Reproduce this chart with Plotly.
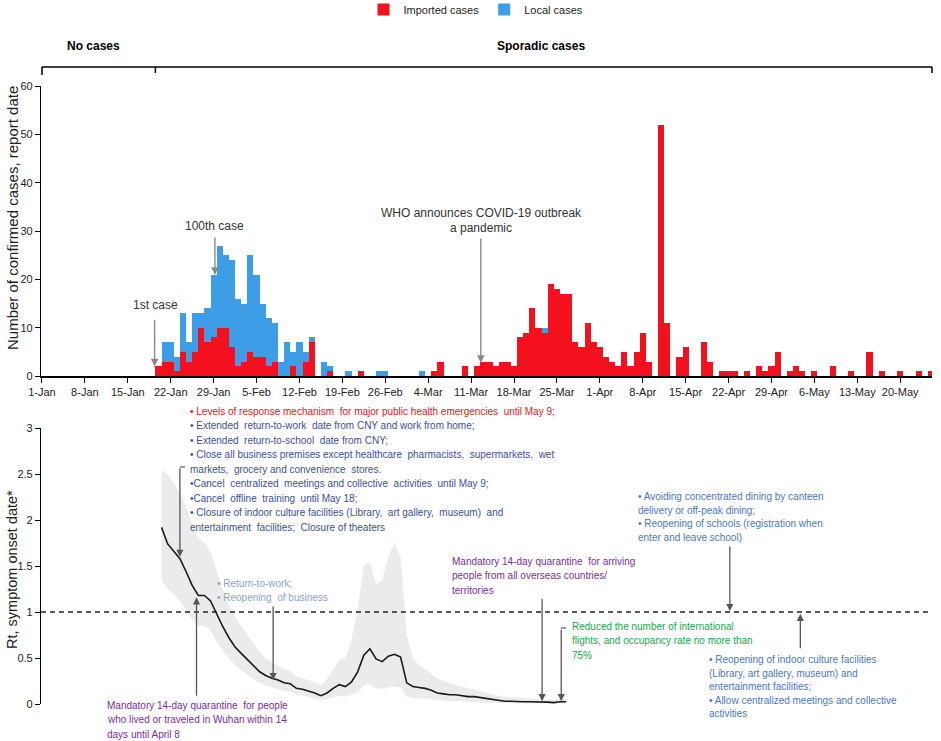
import pandas as pd
import plotly.graph_objects as go

# ---------------- data ----------------
bar_start = "2020-01-20"
bar_end = "2020-05-25"
imported = [
    2, 3, 3, 1, 5, 3, 5, 10, 7, 8, 10, 10, 6, 2,          # Jan 20 - Feb 2
    3, 5, 4, 4, 2, 3, 0, 0, 2, 0, 3, 7, 0, 0,             # Feb 3 - Feb 16
    1, 0, 0, 0, 0, 1, 0, 0, 0, 0, 0, 0, 0, 0,             # Feb 17 - Mar 1
    0, 0, 0, 1, 3, 0, 0, 0, 2, 0, 2, 3, 3, 2,             # Mar 2 - Mar 15
    3, 3, 2, 8, 9, 14, 10, 9, 19, 18, 17, 17, 7, 6,       # Mar 16 - Mar 29
    11, 7, 6, 4, 3, 2, 5, 2, 5, 9, 3, 0, 52, 11,          # Mar 30 - Apr 12
    0, 4, 6, 0, 0, 7, 3, 0, 1, 1, 1, 0, 1, 0,             # Apr 13 - Apr 26
    2, 1, 2, 5, 0, 1, 2, 1, 0, 1, 0, 0, 2, 0,             # Apr 27 - May 10
    0, 1, 0, 0, 5, 0, 1, 0, 0, 1, 0, 0, 1, 0, 1,          # May 11 - May 25
]
local = [
    0, 4, 4, 3, 8, 4, 8, 3, 7, 13, 17, 15, 18, 14,
    12, 20, 17, 11, 10, 8, 3, 7, 3, 7, 2, 1, 0, 3,
    1, 0, 0, 1, 0, 0, 0, 0, 1, 1, 0, 0, 0, 0,
    0, 1, 0, 0, 0, 0, 0, 0, 0, 0, 0, 0, 0, 0,
    0, 0, 0, 0, 0, 0, 0, 1, 0, 0, 0, 0, 0, 0,
    0, 0, 0, 0, 0, 0, 0, 0, 0, 0, 0, 0, 0, 0,
    0, 0, 0, 0, 0, 0, 0, 0, 0, 0, 0, 0, 0, 0,
    0, 0, 0, 0, 0, 0, 0, 0, 0, 0, 0, 0, 0, 0,
    0, 0, 0, 0, 0, 0, 0, 0, 0, 0, 0, 0, 0, 0, 0,
]

rt_start = "2020-01-20 12:00"
rt = [1.92, 1.74, 1.66, 1.58, 1.44, 1.29, 1.18, 1.18, 1.12, 0.97,
      0.84, 0.72, 0.62, 0.55, 0.48, 0.41, 0.35, 0.31, 0.28, 0.26,
      0.23, 0.22, 0.17, 0.16, 0.14, 0.12, 0.09, 0.12, 0.17, 0.21,
      0.19, 0.24, 0.35, 0.53, 0.60, 0.49, 0.46, 0.52, 0.54, 0.51,
      0.23, 0.19, 0.18, 0.17, 0.15, 0.12, 0.11, 0.10, 0.10, 0.09,
      0.08, 0.08, 0.07, 0.06, 0.05, 0.04, 0.03, 0.03, 0.025, 0.025,
      0.025, 0.025, 0.02, 0.02, 0.015, 0.025, 0.025]
rt_high = [2.55, 2.5, 2.4, 2.3, 2.15, 1.95, 1.8, 1.75, 1.65, 1.45,
           1.25, 1.08, 0.95, 0.85, 0.75, 0.65, 0.56, 0.5, 0.46, 0.42,
           0.38, 0.36, 0.3, 0.28, 0.26, 0.23, 0.2, 0.27, 0.38, 0.48,
           0.5, 0.7, 1.05, 1.5, 1.55, 1.3, 1.35, 1.6, 1.75, 1.6,
           0.75, 0.5, 0.42, 0.38, 0.33, 0.28, 0.25, 0.23, 0.21, 0.19,
           0.17, 0.16, 0.14, 0.12, 0.1, 0.09, 0.08, 0.07, 0.07, 0.06,
           0.06, 0.06, 0.05, 0.05, 0.05, 0.06, 0.06]
rt_low = [1.35, 1.25, 1.2, 1.12, 1.02, 0.92, 0.85, 0.85, 0.8, 0.68,
          0.58, 0.5, 0.42, 0.37, 0.32, 0.27, 0.23, 0.2, 0.18, 0.16,
          0.14, 0.13, 0.1, 0.09, 0.08, 0.06, 0.04, 0.05, 0.07, 0.09,
          0.08, 0.1, 0.13, 0.2, 0.22, 0.17, 0.16, 0.18, 0.19, 0.18,
          0.08, 0.07, 0.06, 0.06, 0.05, 0.04, 0.04, 0.03, 0.03, 0.03,
          0.02, 0.02, 0.02, 0.01, 0.01, 0.01, 0.005, 0.005, 0.005, 0.005,
          0.005, 0.005, 0.005, 0.005, 0.005, 0.005, 0.005]

phase_labels = ["No cases", "Sporadic cases"]
phase_break = "2020-01-19 12:00"

# ---------------- layout helpers ----------------
W, H = 941, 741
ML, MR = 41, 9
X_RANGE = ["2019-12-31 20:10", "2020-05-25 04:30"]
FONT = "Arial, Liberation Sans, sans-serif"


def px(x):
    return (x - ML) / (W - ML - MR)


def py(y):
    return 1 - y / H


dates = pd.date_range(bar_start, bar_end, freq="D")
rt_dates = pd.date_range(rt_start, periods=len(rt), freq="D")

fig = go.Figure()
fig.add_trace(go.Bar(x=dates, y=imported, name="Imported cases",
                     marker=dict(color="#f2111c", line=dict(width=0)),
                     xaxis="x", yaxis="y"))
fig.add_trace(go.Bar(x=dates, y=local, name="Local cases",
                     marker=dict(color="#3d9de6", line=dict(width=0)),
                     xaxis="x", yaxis="y"))

band_x = list(rt_dates) + list(rt_dates[::-1])
band_y = rt_high + rt_low[::-1]
fig.add_trace(go.Scatter(x=band_x, y=band_y, fill="toself", fillcolor="#ebebeb",
                         line=dict(width=0), mode="lines", hoverinfo="skip",
                         showlegend=False, xaxis="x2", yaxis="y2"))
fig.add_trace(go.Scatter(x=rt_dates, y=rt, mode="lines",
                         line=dict(color="#1a1a1a", width=1.6),
                         showlegend=False, xaxis="x2", yaxis="y2"))

axis_common = dict(showgrid=False, zeroline=False, linecolor="black",
                   tickcolor="black", tickfont=dict(size=11, color="#222"),
                   automargin=False)

fig.update_layout(
    width=W, height=H,
    margin=dict(l=ML, r=MR, t=0, b=0, autoexpand=False),
    paper_bgcolor="white", plot_bgcolor="white",
    font=dict(family=FONT, color="#222"),
    barmode="stack", bargap=0,
    showlegend=True,
    legend=dict(orientation="h", x=px(476), xanchor="center", y=py(-5), yanchor="top",
                font=dict(size=11), itemwidth=30, traceorder="normal",
                bgcolor="rgba(0,0,0,0)"),
    xaxis=dict(type="date", range=X_RANGE, domain=[0, 1], anchor="y",
               showline=True, linewidth=1.5, ticks="outside", ticklen=5,
               tick0="2020-01-01", dtick=7 * 86400000, tickformat="%-d-%b",
               **axis_common),
    yaxis=dict(domain=[py(376), py(86)], range=[0, 60], dtick=10, anchor="x",
               showline=True, linewidth=1.2, ticks="outside", ticklen=5,
               **axis_common),
    xaxis2=dict(type="date", range=X_RANGE, domain=[0, 1], anchor="y2",
                matches="x", showline=False, showticklabels=False, ticks="",
                showgrid=False, zeroline=False),
    yaxis2=dict(domain=[py(704), py(428)], range=[0, 3], dtick=0.5, anchor="x2",
                showline=True, linewidth=1.2, ticks="outside", ticklen=5,
                **axis_common),
)


def label(x, y, text, size=12, color="#333", xanchor="center", textangle=0):
    fig.add_annotation(x=px(x), y=py(y), xref="paper", yref="paper", text=text,
                       showarrow=False, xanchor=xanchor, yanchor="middle",
                       textangle=textangle, font=dict(size=size, color=color))


# ---------------- header bracket ----------------
LINE = dict(color="black", width=1.5)
fig.add_shape(type="line", xref="paper", yref="paper", x0=px(42), x1=1,
              y0=py(67), y1=py(67), line=LINE)
fig.add_shape(type="line", xref="paper", yref="paper", x0=px(42), x1=px(42),
              y0=py(67), y1=py(75), line=LINE)
fig.add_shape(type="line", xref="x", yref="paper", x0=phase_break, x1=phase_break,
              y0=py(67), y1=py(73), line=LINE)
fig.add_shape(type="line", xref="paper", yref="paper", x0=1, x1=1,
              y0=py(67), y1=py(73), line=LINE)
label(93, 46, "<b>" + phase_labels[0] + "</b>", 12, "black")
label(541, 46, "<b>" + phase_labels[1] + "</b>", 12, "black")

# ---------------- axis titles ----------------
label(12, 218, "Number of confirmed cases, report date", 15, "#222", textangle=-90)
label(12, 570, "Rt, symptom onset date*", 14.5, "#222", textangle=-90)

# ---------------- Rt = 1 reference ----------------
fig.add_shape(type="line", xref="paper", yref="y2", x0=0, x1=1, y0=1, y1=1,
              line=dict(color="#222", width=1.5, dash="5px,4px"))


# ---------------- arrows ----------------
def arrow(x, y, ay, xr="x", yr="y", color="#8a8a8a", width=1.4):
    fig.add_annotation(x=x, y=y, xref=xr, yref=yr, ax=0, ay=ay, text="",
                       showarrow=True, arrowhead=2, arrowsize=1.1,
                       arrowwidth=width, arrowcolor=color)


arrow("2020-01-19 09:00", 1.97, -48)
arrow("2020-01-29 05:00", 20.9, -39)
arrow("2020-03-12 14:00", 2.7, -126)

DG = "#555555"
arrow("2020-01-23 12:00", 1.60, -90, "x2", "y2", DG, 1.3)
arrow("2020-01-26 05:00", 1.16, 100, "x2", "y2", DG, 1.3)
arrow("2020-02-07 17:00", 0.26, -75, "x2", "y2", DG, 1.3)
arrow("2020-03-22 14:00", 0.03, -104, "x2", "y2", DG, 1.3)
arrow("2020-03-25 17:00", 0.03, -73, "x2", "y2", DG, 1.3)
arrow("2020-04-22 05:00", 1.01, -66, "x2", "y2", DG, 1.3)
arrow("2020-05-03 17:00", 0.98, 36, "x2", "y2", DG, 1.3)

# bracket ticks on top of two bottom arrows
fig.add_shape(type="line", xref="paper", yref="paper", x0=px(180), x1=px(185),
              y0=py(467), y1=py(467), line=dict(color=DG, width=1.2))
fig.add_shape(type="line", xref="paper", yref="paper", x0=px(561), x1=px(566),
              y0=py(628), y1=py(628), line=dict(color=DG, width=1.2))

# ---------------- top labels ----------------
label(155, 305, "1st case")
label(214, 226, "100th case")
label(481, 213, "WHO announces COVID-19 outbreak")
label(481, 228, "a pandemic")


# ---------------- bottom text blocks ----------------
def block(x_left, y_first, lines, colors, spacing=14.5, size=10):
    if isinstance(colors, str):
        colors = [colors] * len(lines)
    for i, (t, c) in enumerate(zip(lines, colors)):
        label(x_left, y_first + i * spacing, t, size, c, xanchor="left")


RED = "#e8141c"
NAVY = "#3b4fa3"
PALE = "#8c9fd2"
MID = "#4a78c2"
PURPLE = "#7a2ea0"
GREEN = "#17a84a"

block(188, 411, [
    "• Levels of response mechanism  for major public health emergencies  until May 9;",
    "• Extended  return-to-work  date from CNY and work from home;",
    "• Extended  return-to-school  date from CNY;",
    "• Close all business premises except healthcare  pharmacists,  supermarkets,  wet",
    "markets,  grocery and convenience  stores.",
    "•Cancel  centralized  meetings and collective  activities  until May 9;",
    "•Cancel  offline  training  until May 18;",
    "• Closure of indoor culture facilities (Library,  art gallery,  museum)  and",
    "entertainment  facilities;  Closure of theaters",
], [RED] + [NAVY] * 8)

block(215, 583, ["• Return-to-work;", "• Reopening  of business"], PALE)

block(105, 705, [
    "Mandatory 14-day quarantine  for people",
    "who lived or traveled in Wuhan within 14",
    "days until April 8",
], PURPLE)

block(450, 561, [
    "Mandatory 14-day quarantine  for arriving",
    "people from all overseas countries/",
    "territories",
], PURPLE)

block(570, 626, [
    "Reduced the number of international",
    "flights, and occupancy rate no more than",
    "75%",
], GREEN)

block(636, 496.5, [
    "• Avoiding concentrated dining by canteen",
    "delivery or off-peak dining;",
    "• Reopening of schools (registration when",
    "enter and leave school)",
], MID, spacing=13.6)

block(707, 659.5, [
    "• Reopening of indoor culture facilities",
    "(Library, art gallery, museum) and",
    "entertainment facilities;",
    "• Allow centralized meetings and collective",
    "activities",
], MID, spacing=13.5)

fig.write_html("out.html")
